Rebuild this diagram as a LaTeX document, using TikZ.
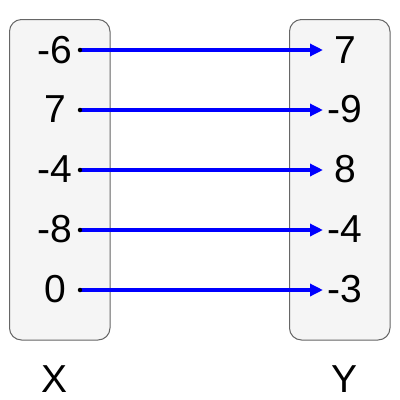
\documentclass[tikz,border=0pt]{standalone}
\usepackage{fontspec}
\setmainfont{Liberation Sans}
\usetikzlibrary{arrows.meta}
\definecolor{boxfill}{RGB}{245,245,245}
\definecolor{boxline}{RGB}{102,102,102}
\definecolor{arrowblue}{RGB}{0,0,255}
\begin{document}
\begin{tikzpicture}[x=1pt,y=-1pt,
  setbox/.style={draw=boxline,fill=boxfill,line width=1pt,rounded corners=12pt},
  val/.style={inner sep=0pt,font=\fontsize{39}{42}\selectfont,text=black},
  maparrow/.style={draw=arrowblue,line width=3.6pt,-{Triangle[length=13pt,width=12pt]}},
  dotmark/.style={fill=black,circle,inner sep=0pt,minimum size=4.5pt}]
\useasboundingbox (0,0) rectangle (400,400);
\fill[white] (0,0) rectangle (400,400);
\draw[setbox] (9.5,19.5) rectangle (110,340);
\draw[setbox] (289.5,19.5) rectangle (390,340);
\node[val] (l1) at (55,50) {-6};
\node[val] (l2) at (55,109) {7};
\node[val] (l3) at (55,169) {-4};
\node[val] (l4) at (55,229) {-8};
\node[val] (l5) at (55,289) {0};
\node[val] (r1) at (345,50) {7};
\node[val] (r2) at (345,109) {-9};
\node[val] (r3) at (345,169) {8};
\node[val] (r4) at (345,229) {-4};
\node[val] (r5) at (345,289) {-3};
\node[val] (xl) at (55,379) {X};
\node[val] (yl) at (345,379) {Y};
\foreach \i/\y in {1/50,2/110,3/170,4/230,5/290}{
  \coordinate (s\i) at (80,\y);
  \coordinate (e\i) at (323,\y);
  \draw[maparrow] (s\i) -- (e\i);
  \node[dotmark] (d\i) at (s\i) {};
}
\end{tikzpicture}
\end{document}
